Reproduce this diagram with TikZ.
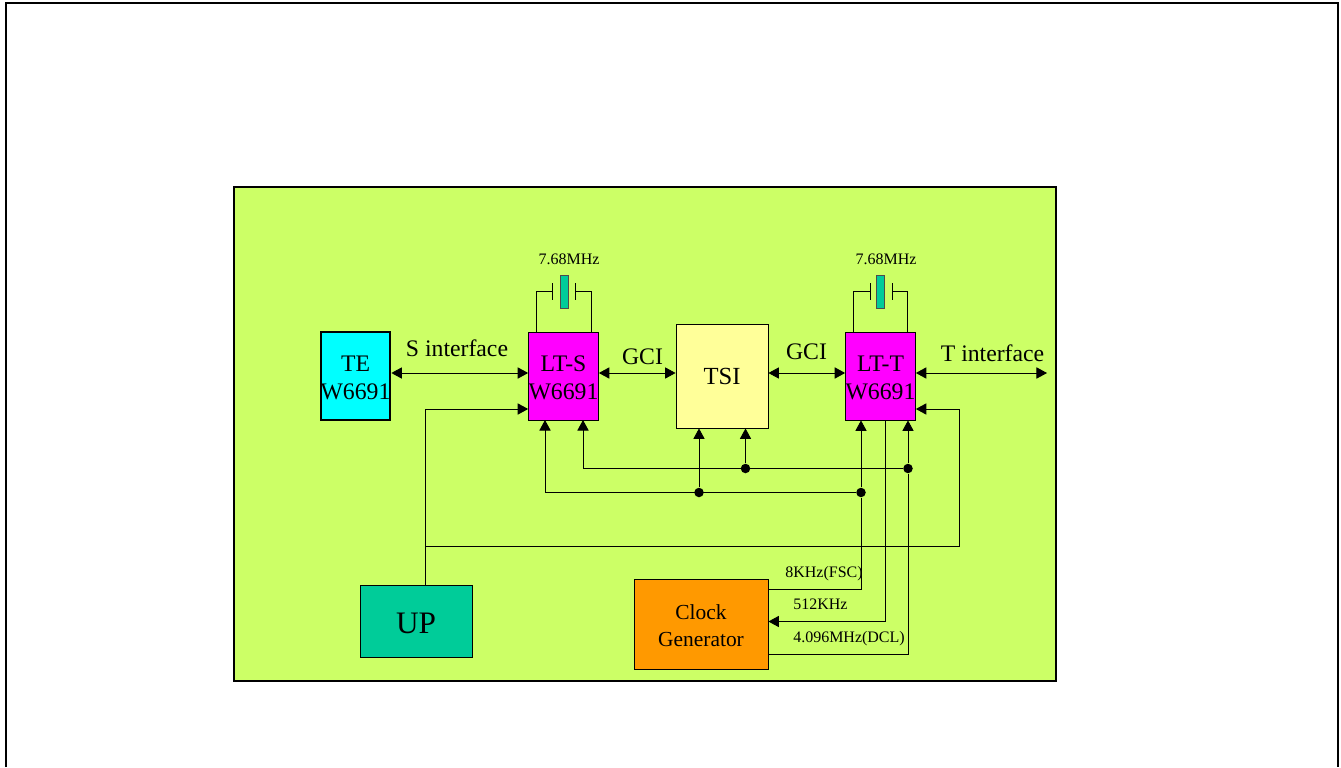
\documentclass[tikz,border=0pt]{standalone}
\usepackage{xcolor}
\usepackage{fontspec}
\setmainfont{Liberation Serif}
\usetikzlibrary{arrows.meta}
\definecolor{panelgreen}{HTML}{CCFF66}
\definecolor{chipmagenta}{HTML}{FF00FF}
\definecolor{tecyan}{HTML}{00FFFF}
\definecolor{tsiyellow}{HTML}{FFFF99}
\definecolor{teagreen}{HTML}{00CC99}
\definecolor{clockorange}{HTML}{FF9900}
\newcommand{\bigfont}{\fontsize{13.5}{16}\selectfont}
\newcommand{\tinyfont}{\fontsize{9.1}{11}\selectfont}

\begin{document}
\begin{tikzpicture}[%
		x=0.02cm,y=-0.02cm,
		line width=0.5pt,
		sig/.style={draw=black},
		arr/.style={sig,-{Triangle[length=6pt,width=6.4pt]}},
		biarr/.style={sig,{Triangle[length=6pt,width=6.4pt]}-{Triangle[length=6pt,width=6.4pt]}},
		box/.style={draw=black,rectangle,inner sep=0pt,align=center,font=\bigfont},
		chip/.style={box,fill=chipmagenta,minimum width=1.38cm,minimum height=1.76cm},
		dot/.style={circle,fill=black,inner sep=0pt,minimum size=0.19cm},
		label/.style={inner sep=0pt,font=\bigfont},
		small/.style={inner sep=0pt,font=\tinyfont},
		xtal/.style={draw=black!70,fill=teagreen,rectangle,inner sep=0pt,minimum width=0.16cm,minimum height=0.66cm}]
		\useasboundingbox (0,0) rectangle (1341,767);
		\coordinate (frameA) at (6,767);
		\coordinate (frameB) at (6,3);
		\coordinate (frameC) at (1338,3);
		\coordinate (frameD) at (1338,767);
		\draw[line width=1.2pt] (frameA) -- (frameB) -- (frameC) -- (frameD);
		\node[box,fill=panelgreen,line width=0.7pt,minimum width=16.44cm,minimum height=9.88cm] (panel) at (645,434) {};

		\node[chip,fill=tecyan,line width=1.1pt] (te) at (355.5,376) {\rule{0pt}{11.2pt}TE\\W6691};
		\node[chip] (lts) at (563.5,376) {\rule{0pt}{11.2pt}LT-S\\W6691};
		\node[box,fill=tsiyellow,minimum width=1.84cm,minimum height=2.08cm,font=\fontsize{14}{16}\selectfont] (tsi) at (722,376) {TSI};
		\node[chip] (ltt) at (880.5,376) {\rule{0pt}{11.2pt}LT-T\\W6691};
		\node[box,fill=teagreen,minimum width=2.24cm,minimum height=1.44cm,font=\fontsize{17.8}{20}\selectfont] (up) at (416,621) {\rule{0pt}{14pt}UP};
		\node[box,fill=clockorange,minimum width=2.68cm,minimum height=1.8cm,font=\fontsize{12.2}{15.3}\selectfont] (clock) at (701,624) {\rule{0pt}{10.6pt}Clock\\Generator};

		\node[xtal] (xtalS) at (564,291.5) {};
		\node[xtal] (xtalT) at (880.5,291.5) {};
		\node[small] (freqS) at (569,259) {7.68MHz};
		\node[small] (freqT) at (886,259) {7.68MHz};
		\coordinate (plateSa) at (552.5,291.5);
		\coordinate (plateSb) at (575.5,291.5);
		\coordinate (plateTa) at (870,291.5);
		\coordinate (plateTb) at (892.5,291.5);
		\coordinate (leadSa) at (536.5,332);
		\coordinate (leadSb) at (591,332);
		\coordinate (leadTa) at (853.5,332);
		\coordinate (leadTb) at (907.5,332);
		\draw[sig] (leadSa) |- (plateSa) ++(0,-8.5) -- ++(0,17);
		\draw[sig] (leadSb) |- (plateSb) ++(0,-8.5) -- ++(0,17);
		\draw[sig] (leadTa) |- (plateTa) ++(0,-8.5) -- ++(0,17);
		\draw[sig] (leadTb) |- (plateTb) ++(0,-8.5) -- ++(0,17);

		\node[label] (sname) at (457,348) {S interface};
		\node[label] (gcia) at (642.5,357) {GCI};
		\node[label] (gcib) at (806.5,352) {GCI};
		\node[label] (tname) at (992.5,353) {T interface};
		\node[small] (fsc) at (824,573.5) {8KHz(FSC)};
		\node[small] (khz) at (820.5,604) {512KHz};
		\node[small] (dcl) at (849,638.5) {4.096MHz(DCL)};

		\coordinate (bus) at (0,373);
		\coordinate (tend) at (1047,373);
		\draw[biarr] (te.east |- bus) -- (lts.west |- bus);
		\draw[biarr] (lts.east |- bus) -- (tsi.west |- bus);
		\draw[biarr] (tsi.east |- bus) -- (ltt.west |- bus);
		\draw[biarr] (ltt.east |- bus) -- (tend);

		\coordinate (upS) at (425,409);
		\coordinate (upbus) at (425,546);
		\coordinate (upT) at (959,409);
		\draw[arr] (up.north -| upS) -- (upS) -- (lts.west |- upS);
		\draw[arr] (upbus) -| (upT) -- (ltt.east |- upT);

		\node[dot] (dotFa) at (699,492.5) {};
		\node[dot] (dotFb) at (861,492.5) {};
		\node[dot] (dotDa) at (745.5,468.5) {};
		\node[dot] (dotDb) at (908,468.5) {};
		\coordinate (inFa) at (545,420);
		\coordinate (inDa) at (583,420);
		\draw[arr] (dotFb) -| (inFa);
		\draw[arr] (dotDb) -| (inDa);
		\draw[arr] (dotFa) -- (dotFa |- tsi.south);
		\draw[arr] (dotDa) -- (dotDa |- tsi.south);

		\coordinate (fscout) at (768,589.5);
		\coordinate (khzin) at (885,621.5);
		\coordinate (dclout) at (768,654.5);
		\draw[arr] (fscout) -| (dotFb) -- (dotFb |- ltt.south);
		\draw[arr] (khzin |- ltt.south) -- (khzin) -- (clock.east |- khzin);
		\draw[arr] (dclout) -| (dotDb) -- (dotDb |- ltt.south);
	\end{tikzpicture}
\end{document}
